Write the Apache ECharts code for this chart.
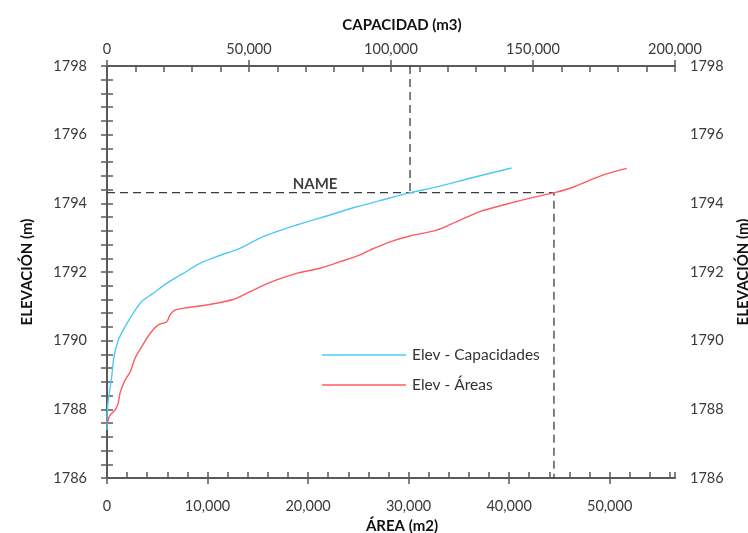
<!DOCTYPE html>
<html>
<head>
<meta charset="utf-8">
<script src="https://cdn.jsdelivr.net/npm/echarts@6/dist/echarts.min.js"></script>
<style>
  html, body { margin: 0; padding: 0; background: #fff; }
  #chart { width: 748px; height: 533px; }
</style>
</head>
<body>
<div id="chart"></div>
<script>
// Curva Elevación - Capacidad (eje superior, m3)
const capVol = [0, 100, 800, 1650, 2460, 4000, 6340, 9270, 12200, 16300, 21000, 26900, 32700,
  38600, 46800, 55000, 66800, 78500, 87900, 96100, 106700, 116100, 127800, 142500];
const capElev = [1787.40, 1787.98, 1788.47, 1788.95, 1789.53, 1790.02, 1790.40, 1790.80, 1791.14,
  1791.38, 1791.67, 1791.96, 1792.25, 1792.45, 1792.69, 1793.03, 1793.37, 1793.66, 1793.90,
  1794.08, 1794.31, 1794.48, 1794.73, 1795.03];

// Curva Elevación - Área (eje inferior, m2)
const areaVal = [30, 300, 800, 1120, 1290, 1790, 2290, 2790, 3450, 4280, 5100, 5940, 6270, 6760,
  7930, 9250, 10900, 12560, 13230, 15220, 16880, 18870, 21190, 23180, 25170, 26160, 28150, 30140,
  32800, 34790, 37100, 39420, 42080, 44460, 46060, 49370, 51700];
const areaElev = [1787.59, 1787.83, 1787.98, 1788.18, 1788.47, 1788.85, 1789.08, 1789.49, 1789.82,
  1790.21, 1790.46, 1790.55, 1790.75, 1790.89, 1790.96, 1791.01, 1791.09, 1791.20, 1791.28,
  1791.57, 1791.77, 1791.96, 1792.11, 1792.30, 1792.50, 1792.64, 1792.88, 1793.05, 1793.22,
  1793.47, 1793.76, 1793.95, 1794.15, 1794.31, 1794.44, 1794.83, 1795.02];

// Punto de lectura (NAME)
const nameElev = 1794.31;
const nameArea = 44460;
const nameCap = 106700;

// Ejes
const areaAxis = { min: 0, max: 56500, major: 10000, minor: 2000 };
const capAxis = { min: 0, max: 200000, major: 50000, minor: 10000 };
const elevAxis = { min: 1786, max: 1798, major: 2, minor: 0.4 };

const AXIS_COLOR = '#5a5a5a';
const LABEL_COLOR = '#3a3a3a';
const FONT = 'Lato';
const CYAN = '#4fc8f5';
const RED = '#ff5a5f';

const fmt = (v) => Number(v).toLocaleString('en-US');

function mainX(pos, ax, name, gap, labelMargin) {
  return {
    type: 'value', position: pos, min: ax.min, max: ax.max, interval: ax.major,
    name, nameLocation: 'middle', nameGap: gap,
    nameTextStyle: { fontFamily: FONT, fontWeight: 'bold', fontSize: 15, color: '#111', padding: [0, 0, 0, 22] },
    axisLine: { show: true, lineStyle: { color: AXIS_COLOR, width: 2 } },
    axisTick: { show: true, inside: false, length: 6, lineStyle: { color: AXIS_COLOR, width: 1.5 } },
    axisLabel: { margin: labelMargin, color: LABEL_COLOR, fontFamily: FONT, fontSize: 14.5,
      formatter: fmt, showMaxLabel: ax.max % ax.major === 0 },
    splitLine: { show: false },
  };
}

// eje auxiliar solo para las marcas menores (hacia dentro)
function minorAxis(pos, ax) {
  return {
    type: 'value', position: pos, min: ax.min, max: ax.max, interval: ax.minor,
    axisLine: { show: false },
    axisTick: { show: true, inside: true, length: 6, lineStyle: { color: AXIS_COLOR, width: 1.5 } },
    axisLabel: { show: false },
    splitLine: { show: false },
  };
}

function mainY(pos, name, gap, labelMargin) {
  return {
    type: 'value', position: pos, min: elevAxis.min, max: elevAxis.max, interval: elevAxis.major,
    name, nameLocation: 'middle', nameGap: gap, nameRotate: 90,
    nameTextStyle: { fontFamily: FONT, fontWeight: 'bold', fontSize: 15, color: '#111' },
    axisLine: { show: true, lineStyle: { color: AXIS_COLOR, width: 2 } },
    axisTick: { show: true, inside: false, length: 6, lineStyle: { color: AXIS_COLOR, width: 1.5 } },
    axisLabel: { margin: labelMargin, color: LABEL_COLOR, fontFamily: FONT, fontSize: 14.5,
      formatter: (v) => String(v) },
    splitLine: { show: false },
  };
}

const chart = echarts.init(document.getElementById('chart'));

chart.setOption({
  backgroundColor: '#fff',
  animation: false,
  grid: { left: 107, right: 73, top: 66, bottom: 55, outerBoundsMode: 'none', containLabel: false },
  legend: {
    orient: 'vertical', left: 317, top: 341,
    itemWidth: 84, itemHeight: 1.5, itemGap: 12,
    icon: 'rect',
    data: [
      { name: 'Elev - Capacidades', itemStyle: { color: CYAN } },
      { name: 'Elev - Áreas', itemStyle: { color: RED } },
    ],
    textStyle: { fontFamily: FONT, fontSize: 15.5, color: '#333', padding: [0, 0, 0, 1], lineHeight: 18 },
  },
  xAxis: [
    mainX('bottom', areaAxis, 'ÁREA (m2)', 40, 21),
    minorAxis('bottom', areaAxis),
    mainX('top', capAxis, 'CAPACIDAD (m3)', 33, 9),
    minorAxis('top', capAxis),
  ],
  yAxis: [
    mainY('left', 'ELEVACIÓN (m)', 72, 20),
    minorAxis('left', elevAxis),
    mainY('right', 'ELEVACIÓN (m)', 61, 15),
    minorAxis('right', elevAxis),
  ],
  series: [
    {
      name: 'Elev - Capacidades', type: 'line', xAxisIndex: 2, yAxisIndex: 0,
      symbol: 'none', smooth: 0.3,
      lineStyle: { color: CYAN, width: 1.4 }, itemStyle: { color: CYAN },
      data: capVol.map((v, i) => [v, capElev[i]]), z: 4,
    },
    {
      name: 'Elev - Áreas', type: 'line', xAxisIndex: 0, yAxisIndex: 0,
      symbol: 'none', smooth: 0.3,
      lineStyle: { color: RED, width: 1.4 }, itemStyle: { color: RED },
      data: areaVal.map((v, i) => [v, areaElev[i]]), z: 4,
    },
    {
      name: 'guia-area', type: 'line', xAxisIndex: 0, yAxisIndex: 0, symbol: 'none',
      lineStyle: { color: '#3c3c3c', width: 1.3, type: [8, 5] },
      data: [[0, nameElev], [nameArea, nameElev], [nameArea, elevAxis.min]], z: 3,
    },
    {
      name: 'guia-cap', type: 'line', xAxisIndex: 2, yAxisIndex: 0, symbol: 'none',
      lineStyle: { color: '#3c3c3c', width: 1.3, type: [8, 5] },
      data: [[nameCap, elevAxis.max], [nameCap, nameElev]], z: 3,
    },
    {
      name: 'etiqueta', type: 'scatter', xAxisIndex: 0, yAxisIndex: 0,
      symbolSize: 1, itemStyle: { color: 'transparent' },
      label: { show: true, position: 'top', distance: 1, formatter: 'NAME',
        fontFamily: FONT, fontWeight: 'bold', fontSize: 15, color: '#111' },
      data: [[20700, nameElev]], z: 5,
    },
  ],
});
</script>
</body>
</html>
